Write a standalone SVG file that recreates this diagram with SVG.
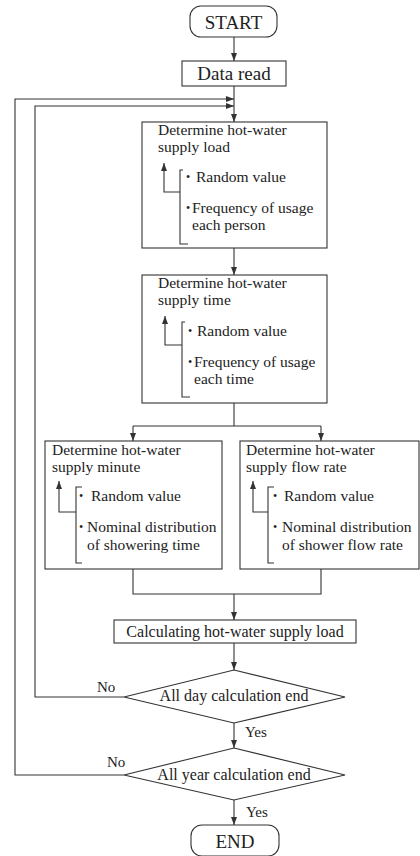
<svg xmlns="http://www.w3.org/2000/svg" width="420" height="856" viewBox="0 0 420 856">
<style>
.s{fill:#fff;stroke:#333;stroke-width:1.1}
.l{fill:none;stroke:#333;stroke-width:1.1}
text{font-family:"Liberation Serif","Times New Roman",serif;fill:#222}
.big{font-size:19px}
.t{font-size:15.5px}
.m{font-size:16px}
.lab{font-size:15px}
.b{font-size:12px}
</style>
<defs>
<marker id="ah" viewBox="0 0 8 6" refX="8" refY="3" markerWidth="8" markerHeight="6" markerUnits="userSpaceOnUse" orient="auto">
<path d="M0,0 L8,3 L0,6 Z" fill="#333"/>
</marker>
</defs>
<rect width="420" height="856" fill="#fff"/>
<g id="connectors">
<path class="l" d="M234,37 V61" marker-end="url(#ah)"/>
<path class="l" d="M234,86 V122" marker-end="url(#ah)"/>
<path class="l" d="M124,697 H35 V106 H234" marker-end="url(#ah)"/>
<path class="l" d="M124,775 H15 V99 H234" marker-end="url(#ah)"/>
<path class="l" d="M234,248 V275" marker-end="url(#ah)"/>
<path class="l" d="M234,403 V426 M133,426 H321"/>
<path class="l" d="M133,426 V441" marker-end="url(#ah)"/>
<path class="l" d="M321,426 V441" marker-end="url(#ah)"/>
<path class="l" d="M133,569 V594 H321 V569"/>
<path class="l" d="M234,594 V620" marker-end="url(#ah)"/>
<path class="l" d="M234,643 V670" marker-end="url(#ah)"/>
<path class="l" d="M234,723 V748" marker-end="url(#ah)"/>
<path class="l" d="M234,800 V825" marker-end="url(#ah)"/>
<text class="lab" x="97" y="692">No</text>
<text class="lab" x="107" y="767">No</text>
<text class="lab" x="245" y="737">Yes</text>
<text class="lab" x="246" y="817">Yes</text>
</g>
<g id="start">
<rect class="s" x="190" y="6" width="87" height="31" rx="11"/>
<text class="big" x="233.5" y="29" text-anchor="middle">START</text>
</g>
<g id="data-read">
<rect class="s" x="182" y="61" width="104" height="25"/>
<text class="big" x="234" y="80" text-anchor="middle">Data read</text>
</g>
<g id="load">
<rect class="s" x="142" y="122" width="185" height="126"/>
<text class="t" x="158" y="135">Determine hot-water</text>
<text class="t" x="158" y="152">supply load</text>
<path class="l" d="M180,192 H164 V163" marker-end="url(#ah)"/>
<path class="l" d="M183,170 H180 V244 H188"/>
<text class="t"><tspan class="b" x="186" y="181">•</tspan><tspan x="196" y="182">Random value</tspan></text>
<text class="t"><tspan class="b" x="186" y="212">•</tspan><tspan x="192" y="213">Frequency of usage</tspan></text>
<text class="t" x="192" y="230">each person</text>
</g>
<g id="time">
<rect class="s" x="142" y="275" width="185" height="128"/>
<text class="t" x="158" y="288">Determine hot-water</text>
<text class="t" x="158" y="305">supply time</text>
<path class="l" d="M182,345 H165 V316" marker-end="url(#ah)"/>
<path class="l" d="M185,322 H182 V397 H190"/>
<text class="t"><tspan class="b" x="188" y="335">•</tspan><tspan x="197" y="336">Random value</tspan></text>
<text class="t"><tspan class="b" x="188" y="366">•</tspan><tspan x="194" y="367">Frequency of usage</tspan></text>
<text class="t" x="194" y="384">each time</text>
</g>
<g id="minute">
<rect class="s" x="45" y="441" width="177" height="128"/>
<text class="t" x="52" y="455">Determine hot-water</text>
<text class="t" x="52" y="472">supply minute</text>
<path class="l" d="M76,512 H59 V481" marker-end="url(#ah)"/>
<path class="l" d="M82,487 H76 V563 H82"/>
<text class="t"><tspan class="b" x="79" y="500">•</tspan><tspan x="91" y="501">Random value</tspan></text>
<text class="t"><tspan class="b" x="79" y="531">•</tspan><tspan x="87" y="532">Nominal distribution</tspan></text>
<text class="t" x="87" y="550">of showering time</text>
</g>
<g id="flow-rate">
<rect class="s" x="240" y="441" width="179" height="128"/>
<text class="t" x="246" y="455">Determine hot-water</text>
<text class="t" x="246" y="472">supply flow rate</text>
<path class="l" d="M268,512 H253 V481" marker-end="url(#ah)"/>
<path class="l" d="M274,487 H268 V563 H274"/>
<text class="t"><tspan class="b" x="273" y="500">•</tspan><tspan x="284" y="501">Random value</tspan></text>
<text class="t"><tspan class="b" x="273" y="531">•</tspan><tspan x="282" y="532">Nominal distribution</tspan></text>
<text class="t" x="282" y="550">of shower flow rate</text>
</g>
<g id="calc">
<rect class="s" x="114" y="620" width="242" height="23"/>
<text class="m" x="235" y="637" text-anchor="middle">Calculating hot-water supply load</text>
</g>
<g id="day-end">
<polygon class="s" points="234,670 345,697 234,723 124,697"/>
<text class="m" x="234" y="701" text-anchor="middle">All day calculation end</text>
</g>
<g id="year-end">
<polygon class="s" points="234,748 345,775 234,800 124,775"/>
<text class="m" x="234" y="780" text-anchor="middle">All year calculation end</text>
</g>
<g id="end">
<rect class="s" x="191" y="825" width="88" height="31" rx="11"/>
<text class="big" x="235" y="848" text-anchor="middle">END</text>
</g>
</svg>
